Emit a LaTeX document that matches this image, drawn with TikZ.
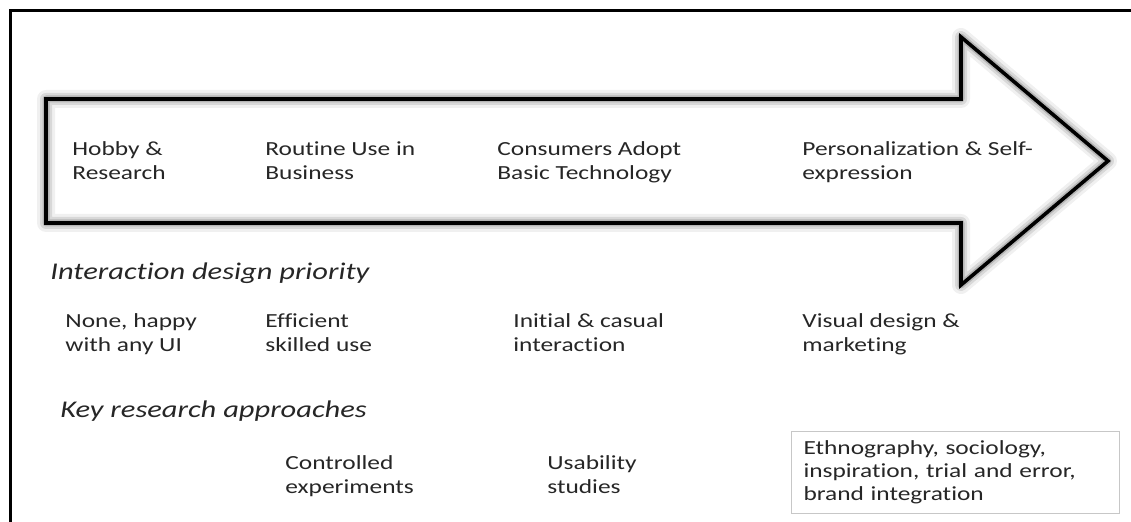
\documentclass[tikz,border=0pt]{standalone}
\usepackage{fontspec}
\setmainfont{Carlito}[FakeStretch=1.27, Ligatures=NoCommon]
\usetikzlibrary{positioning}

\newcommand{\stagearrow}{(46,99) -- (961,99) -- (961,37) -- (1108,161) -- (961,285) -- (961,223) -- (46,223) -- cycle}

\begin{document}
\begin{tikzpicture}
[
x=0.5pt, y=-0.5pt,
text-a/.style={anchor=base west, inner sep=0pt, align=left, font=\fontsize{10}{12}\selectfont, text=black!85},
text-b/.style={anchor=base west, inner sep=0pt, font=\fontsize{12}{14}\selectfont\itshape, text=black!85},
box-a/.style={draw=black!22, line width=0.5pt, anchor=north west, inner xsep=6pt, inner ysep=0pt, text width=152pt, minimum height=41pt, align=left, font=\fontsize{10}{11.5}\selectfont, text=black!85},
glow-a/.style={draw=black, line join=round, opacity=#1},
frame-a/.style={line width=1.5pt}
]
\useasboundingbox (0,0) rectangle (1131,522);
\draw [frame-a] (10,522) -- (10,11) -- (1131,11);
% arrow with soft shadow
\draw [glow-a=0.06, line width=9pt] \stagearrow;
\draw [glow-a=0.10, line width=6pt] \stagearrow;
\draw [glow-a=0.16, line width=3.5pt] \stagearrow;
\draw [line width=1.8pt] \stagearrow;
% stages
\node (stage-1) [text-a] at (72,180)  {Hobby \&\\Research};
\node (stage-2) [text-a] at (265,180) {Routine Use in\\Business};
\node (stage-3) [text-a] at (497,180) {Consumers Adopt\\Basic Technology};
\node (stage-4) [text-a] at (802,180) {Personalization \& Self-\\expression};
% priorities
\node (prio-head) [text-b] at (50,280)  {Interaction design priority};
\node (prio-1)    [text-a] at (65,352)  {None, happy\\with any UI};
\node (prio-2)    [text-a] at (265,352) {Efficient\\skilled use};
\node (prio-3)    [text-a] at (513,352) {Initial \& casual\\interaction};
\node (prio-4)    [text-a] at (802,352) {Visual design \&\\marketing};
% research approaches
\node (appr-head) [text-b] at (60,418)  {Key research approaches};
\node (appr-2)    [text-a] at (285,494) {Controlled\\experiments};
\node (appr-3)    [text-a] at (547,494) {Usability\\studies};
\node (appr-4)    [box-a]  at (791,431) {Ethnography, sociology,\\inspiration, trial and error,\\brand integration};
\end{tikzpicture}
\end{document}
